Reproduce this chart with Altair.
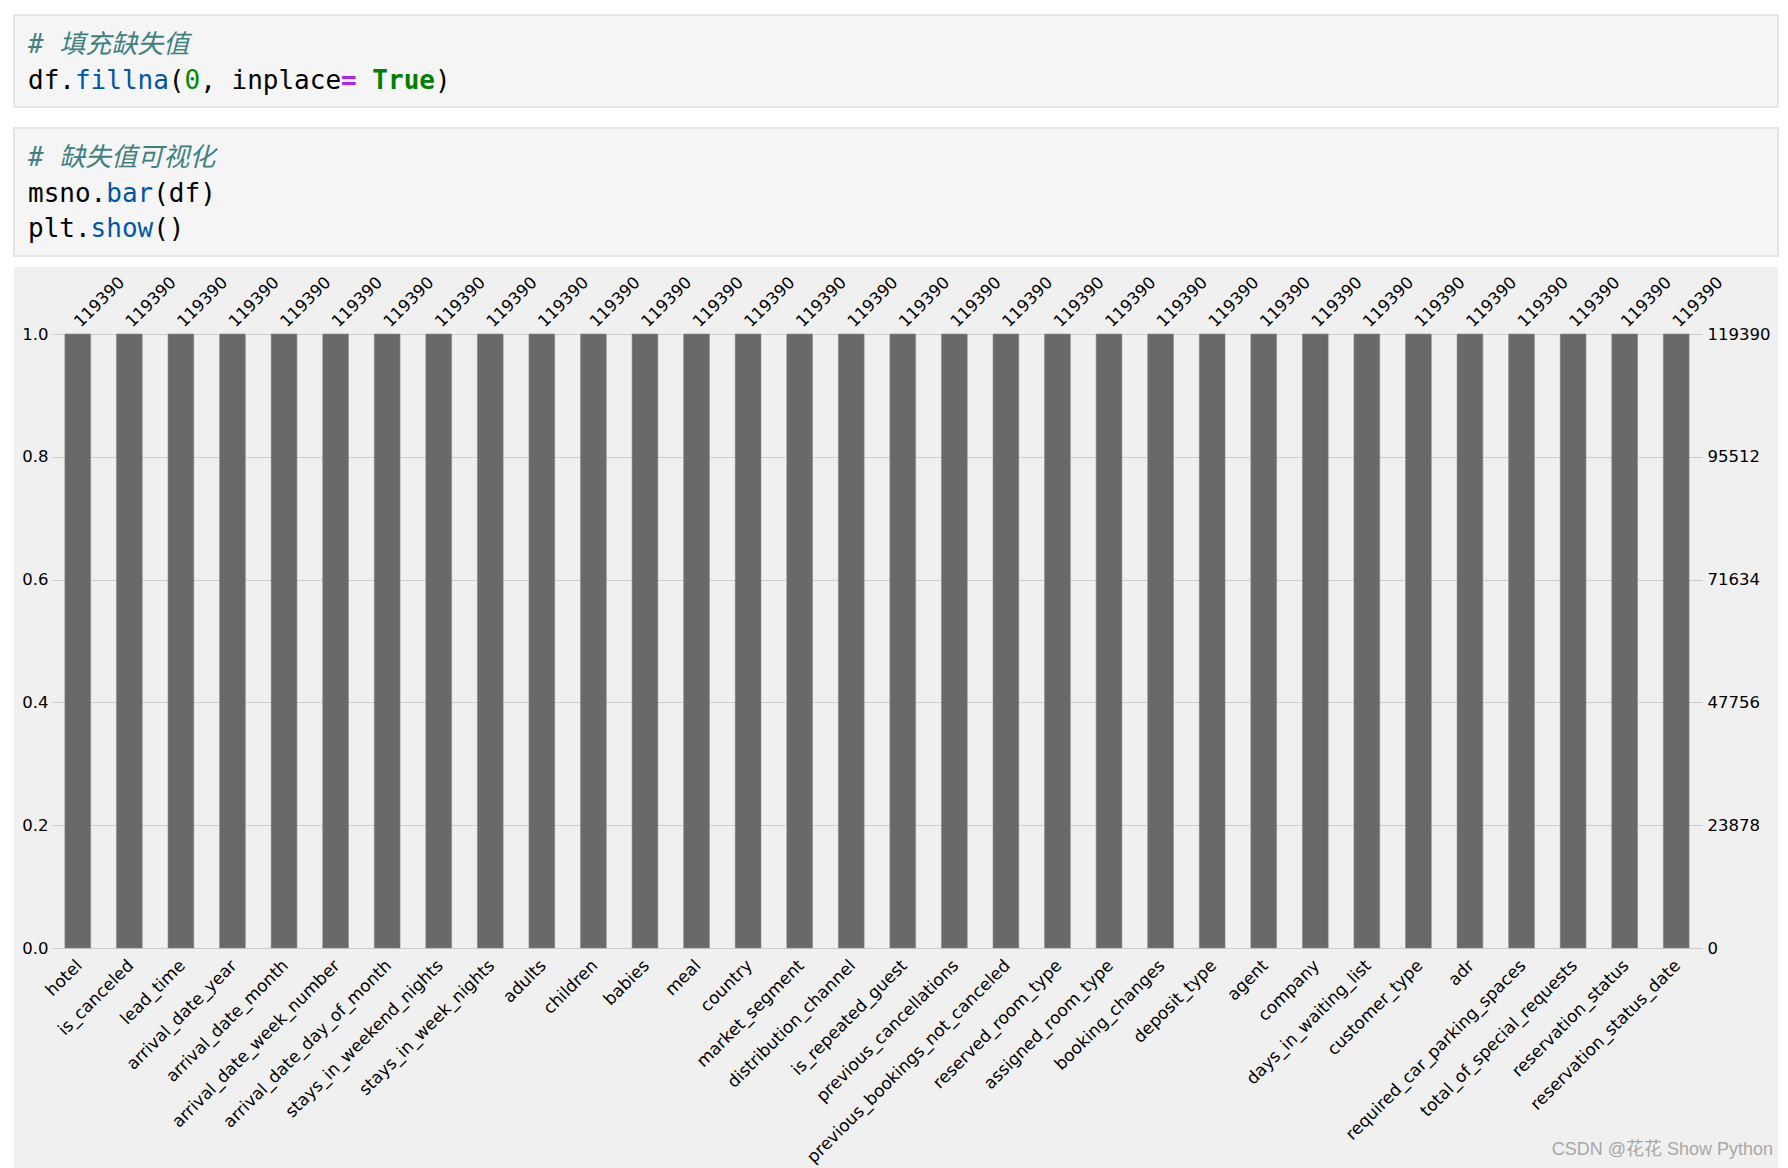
import altair as alt
import pandas as pd

# ---------------- data ----------------
columns = [
    "hotel", "is_canceled", "lead_time", "arrival_date_year", "arrival_date_month",
    "arrival_date_week_number", "arrival_date_day_of_month", "stays_in_weekend_nights",
    "stays_in_week_nights", "adults", "children", "babies", "meal", "country",
    "market_segment", "distribution_channel", "is_repeated_guest", "previous_cancellations",
    "previous_bookings_not_canceled", "reserved_room_type", "assigned_room_type",
    "booking_changes", "deposit_type", "agent", "company", "days_in_waiting_list",
    "customer_type", "adr", "required_car_parking_spaces", "total_of_special_requests",
    "reservation_status", "reservation_status_date",
]
counts = [
    119390, 119390, 119390, 119390, 119390, 119390, 119390, 119390,
    119390, 119390, 119390, 119390, 119390, 119390, 119390, 119390,
    119390, 119390, 119390, 119390, 119390, 119390, 119390, 119390,
    119390, 119390, 119390, 119390, 119390, 119390, 119390, 119390,
]
total_rows = 119390
left_ticks = [0.0, 0.2, 0.4, 0.6, 0.8, 1.0]
right_ticks = [0, 23878, 47756, 71634, 95512, 119390]

# code cells text: (line, column, text, color, style)
code_segments = [
    (0, 0, "# 填充缺失值", "#408080", "italic"),
    (1, 0, "df.", "#000000", "normal"),
    (1, 3, "fillna", "#0055aa", "normal"),
    (1, 9, "(", "#000000", "normal"),
    (1, 10, "0", "#008800", "normal"),
    (1, 11, ", inplace", "#000000", "normal"),
    (1, 20, "=", "#aa22ff", "bold"),
    (1, 22, "True", "#008000", "bold"),
    (1, 26, ")", "#000000", "normal"),
    (2, 0, "# 缺失值可视化", "#408080", "italic"),
    (3, 0, "msno.", "#000000", "normal"),
    (3, 5, "bar", "#0055aa", "normal"),
    (3, 8, "(df)", "#000000", "normal"),
    (4, 0, "plt.", "#000000", "normal"),
    (4, 4, "show", "#0055aa", "normal"),
    (4, 8, "()", "#000000", "normal"),
]
code_line_baselines = [53, 89, 166, 202, 237]
watermark = "CSDN @花花 Show Python"

# ---------------- layout ----------------
W_TOTAL, H_TOTAL = 1788, 1168
PLOT_L, PLOT_T, PLOT_R, PLOT_B = 52, 334, 1702, 948
PW, PH = PLOT_R - PLOT_L, PLOT_B - PLOT_T

def rx(v):
    return v - PLOT_L

def ry(v):
    return v - PLOT_T

one = alt.Data(values=[{"k": 0}])

def rect(x0, y0, x1, y1, fill, stroke=None, sw=0):
    kw = dict(fill=fill)
    if stroke:
        kw.update(stroke=stroke, strokeWidth=sw)
    return alt.Chart(one).mark_rect(**kw).encode(
        x=alt.value(rx(x0)), x2=alt.value(rx(x1)),
        y=alt.value(ry(y0)), y2=alt.value(ry(y1)),
    )

# page is white, the figure area is light grey (canvas background);
# white strips mask everything outside the figure area
white_top = rect(0, 0, W_TOTAL, 267, "#ffffff")
white_left = rect(0, 0, 14, H_TOTAL, "#ffffff")
white_right = rect(1778, 0, W_TOTAL, H_TOTAL, "#ffffff")
cell1 = rect(14, 15, 1778, 107, "#f5f5f5", "#e0e0e0", 1.5)
cell2 = rect(14, 128, 1778, 256, "#f5f5f5", "#e0e0e0", 1.5)

CODE_FS = 26
CW = CODE_FS * 0.602
CODE_X0 = 28
code_layers = []
for line, col, txt, colr, style in code_segments:
    kw = dict(font="DejaVu Sans Mono, Noto Sans CJK SC", fontSize=CODE_FS,
              align="left", baseline="alphabetic", color=colr)
    if style == "bold":
        kw["fontWeight"] = "bold"
    if style == "italic":
        kw["fontStyle"] = "italic"
    code_layers.append(
        alt.Chart(one).mark_text(**kw).encode(
            x=alt.value(rx(CODE_X0 + col * CW)),
            y=alt.value(ry(code_line_baselines[line])),
            text=alt.value(txt),
        )
    )

wm = alt.Chart(one).mark_text(
    font="Liberation Sans, Noto Sans CJK SC", fontSize=18, align="right",
    baseline="alphabetic", color="#a8a8a8",
).encode(x=alt.value(rx(1773)), y=alt.value(ry(1155)), text=alt.value(watermark))

# ---------------- bar chart ----------------
df = pd.DataFrame({"column": columns, "count": counts})
df["fraction"] = df["count"] / total_rows

LFS = 16.5
XFS = 17
FONT = "DejaVu Sans"
xenc = alt.X(
    "column:N", sort=columns,
    scale=alt.Scale(paddingInner=0.5, paddingOuter=0.25),
    axis=alt.Axis(
        title=None, labelAngle=315, labelAlign="right", labelBaseline="top",
        labelOffset=-4, labelPadding=9, ticks=False, domain=False, labelFont=FONT,
        labelFontSize=XFS, labelColor="#000000", labelLimit=600, labelOverlap=False,
        labelBound=False, labelFlush=False, grid=False,
    ),
)

bars = alt.Chart(df).mark_bar(color="#696969", stroke="#8a8a8a", strokeWidth=0.6).encode(
    x=xenc,
    y=alt.Y(
        "fraction:Q",
        scale=alt.Scale(domain=[0, 1], nice=False, zero=True),
        axis=alt.Axis(
            orient="left", title=None, values=left_ticks, format=".1f", ticks=False,
            domain=False, labelFont=FONT, labelFontSize=LFS, labelColor="#000000",
            labelPadding=4, grid=True, gridColor="#cdcdcd", gridWidth=1,
            labelOverlap=False, labelFlush=False,
        ),
    ),
)

top_labels = alt.Chart(df).mark_text(
    angle=315, align="left", baseline="alphabetic", xOffset=3, yOffset=-6,
    font=FONT, fontSize=LFS, color="#000000",
).encode(
    x=alt.X("column:N", sort=columns),
    y=alt.Y(
        "count:Q",
        scale=alt.Scale(domain=[0, total_rows], nice=False, zero=True),
        axis=alt.Axis(
            orient="right", title=None, values=right_ticks, format="d", ticks=False,
            domain=False, labelFont=FONT, labelFontSize=LFS, labelColor="#000000",
            labelPadding=5, grid=False, labelOverlap=False, labelFlush=False,
        ),
    ),
    text=alt.Text("count:Q", format="d"),
)

chart = alt.layer(
    white_top, white_left, white_right, cell1, cell2, *code_layers, bars, top_labels, wm
).resolve_scale(y="independent").properties(
    width=PW, height=PH,
    autosize=alt.AutoSizeParams(type="none"),
    padding={"left": PLOT_L, "top": PLOT_T, "right": W_TOTAL - PLOT_R, "bottom": H_TOTAL - PLOT_B},
).configure(background="#f0f0f0").configure_view(strokeWidth=0)

chart.save("out.html", embed_options={"renderer": "svg", "actions": False})
